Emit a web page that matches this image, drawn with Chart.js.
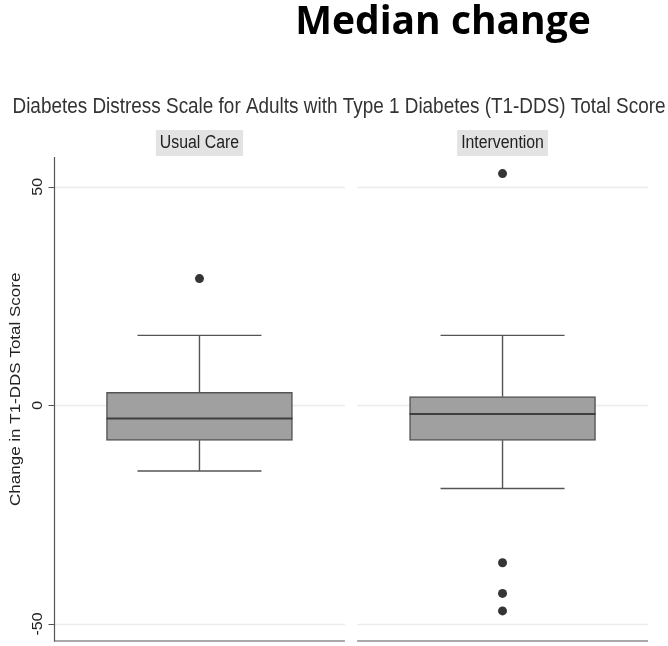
<!DOCTYPE html>
<html>
<head>
<meta charset="utf-8">
<script src="https://cdn.jsdelivr.net/npm/chart.js@4"></script>
<style>
  html, body { margin: 0; padding: 0; background: #fff; }
  #wrap { position: relative; width: 668px; height: 646px; }
  #heading {
    position: absolute; left: 443px; top: -8px; transform: translateX(-50%);
    font-family: "Open Sans", sans-serif; font-weight: 700; font-size: 39px;
    color: #000; white-space: nowrap;
  }
  canvas { position: absolute; left: 0; top: 0; }
</style>
</head>
<body>
<div id="wrap">
  <canvas id="chart" width="668" height="646"></canvas>
  <div id="heading">Median change</div>
</div>
<script>
// groups and box summaries (change in T1-DDS total score)
const groups = ["Usual Care", "Intervention"];
const q1 = [-8, -8];
const median = [-3, -2];
const q3 = [3, 2];
const whiskerLow = [-15, -19];
const whiskerHigh = [16, 16];
const outliersUsual = [29];
const outliersIntervention = [53, -36, -43, -47];
const yTicks = [-50, 0, 50];

const subtitle = "Diabetes Distress Scale for Adults with Type 1 Diabetes (T1-DDS) Total Score";
const yTitle = "Change in T1-DDS Total Score";

const SQUEEZE = 0.88;
const FONT = '"Liberation Sans", Arial, sans-serif';

const drawText = (ctx, text, x, y, size, rot, color) => {
  ctx.save();
  ctx.translate(x, y);
  ctx.scale(SQUEEZE, 1);
  ctx.rotate(rot);
  ctx.font = `${size}px ${FONT}`;
  ctx.fillStyle = color;
  ctx.textAlign = "center";
  ctx.textBaseline = "alphabetic";
  ctx.fillText(text, 0, 0);
  ctx.restore();
};

const panelBounds = (xs, i) => [xs.getPixelForValue(i - 0.48), xs.getPixelForValue(i + 0.48)];

// facet frame: gridlines, axes, strip labels, titles, whiskers
const facetPlugin = {
  id: "facets",
  beforeDatasetsDraw(chart) {
    const { ctx, chartArea, scales } = chart;
    const xs = scales.x, ys = scales.y;
    ctx.save();

    drawText(ctx, subtitle, 339, 113, 21.5, 0, "#333");

    groups.forEach((g, i) => {
      const [l, r] = panelBounds(xs, i);
      const cx = xs.getPixelForValue(i);

      // gridlines
      ctx.strokeStyle = "#ececec";
      ctx.lineWidth = 1.5;
      yTicks.forEach((t) => {
        const py = Math.round(ys.getPixelForValue(t)) + 0.5;
        ctx.beginPath();
        ctx.moveTo(l, py);
        ctx.lineTo(r, py);
        ctx.stroke();
      });

      // bottom axis line
      ctx.strokeStyle = "#555";
      ctx.lineWidth = 1.2;
      ctx.beginPath();
      ctx.moveTo(l, chartArea.bottom - 0.5);
      ctx.lineTo(r, chartArea.bottom - 0.5);
      ctx.stroke();

      // strip label
      ctx.font = `18px ${FONT}`;
      const w = ctx.measureText(g).width * SQUEEZE + 8;
      ctx.fillStyle = "#e3e3e3";
      ctx.fillRect(cx - w / 2, 130, w, 26);
      drawText(ctx, g, cx, 148, 18, 0, "#222");

      // whiskers
      const yq1 = ys.getPixelForValue(q1[i]);
      const yq3 = ys.getPixelForValue(q3[i]);
      const ylo = ys.getPixelForValue(whiskerLow[i]);
      const yhi = ys.getPixelForValue(whiskerHigh[i]);
      ctx.strokeStyle = "#555";
      ctx.lineWidth = 1.4;
      ctx.beginPath();
      ctx.moveTo(cx, yq3); ctx.lineTo(cx, yhi);
      ctx.moveTo(cx - 62, yhi); ctx.lineTo(cx + 62, yhi);
      ctx.moveTo(cx, yq1); ctx.lineTo(cx, ylo);
      ctx.moveTo(cx - 62, ylo); ctx.lineTo(cx + 62, ylo);
      ctx.stroke();
    });

    // y axis line, ticks and labels
    const ax = chartArea.left + 0.5;
    ctx.strokeStyle = "#555";
    ctx.lineWidth = 1.2;
    ctx.beginPath();
    ctx.moveTo(ax, chartArea.top);
    ctx.lineTo(ax, chartArea.bottom);
    yTicks.forEach((t) => {
      const py = Math.round(ys.getPixelForValue(t)) + 0.5;
      ctx.moveTo(ax - 6, py);
      ctx.lineTo(ax, py);
    });
    ctx.stroke();
    yTicks.forEach((t) => {
      drawText(ctx, String(t), 42, ys.getPixelForValue(t), 16, -Math.PI / 2, "#222");
    });
    drawText(ctx, yTitle, 20, (chartArea.top + chartArea.bottom) / 2 - 10, 17, -Math.PI / 2, "#222");

    ctx.restore();
  },
  afterDatasetsDraw(chart) {
    const { ctx, scales } = chart;
    ctx.save();
    ctx.strokeStyle = "#3f3f3f";
    ctx.lineWidth = 2;
    groups.forEach((g, i) => {
      const cx = scales.x.getPixelForValue(i);
      const py = scales.y.getPixelForValue(median[i]);
      ctx.beginPath();
      ctx.moveTo(cx - 93, py);
      ctx.lineTo(cx + 93, py);
      ctx.stroke();
    });
    ctx.restore();
  },
};

const outlierPoints = [
  ...outliersUsual.map((v) => ({ x: 0, y: v })),
  ...outliersIntervention.map((v) => ({ x: 1, y: v })),
];

new Chart(document.getElementById("chart"), {
  type: "bar",
  data: {
    datasets: [
      {
        label: "IQR",
        data: groups.map((g, i) => ({ x: i, y: [q1[i], q3[i]] })),
        backgroundColor: "#a0a0a0",
        borderColor: "#555",
        borderWidth: 1.5,
        borderSkipped: false,
        barThickness: 186,
      },
      {
        type: "scatter",
        label: "Outliers",
        data: outlierPoints,
        backgroundColor: "#353535",
        borderWidth: 0,
        pointRadius: 4.5,
      },
    ],
  },
  options: {
    responsive: false,
    animation: false,
    layout: { padding: { left: 54, right: 20, top: 157, bottom: 2 } },
    plugins: { legend: { display: false }, tooltip: { enabled: false } },
    scales: {
      x: { type: "linear", min: -0.48, max: 1.48, offset: false, display: false },
      y: { min: -54, max: 56.8, display: false },
    },
  },
  plugins: [facetPlugin],
});
</script>
</body>
</html>
